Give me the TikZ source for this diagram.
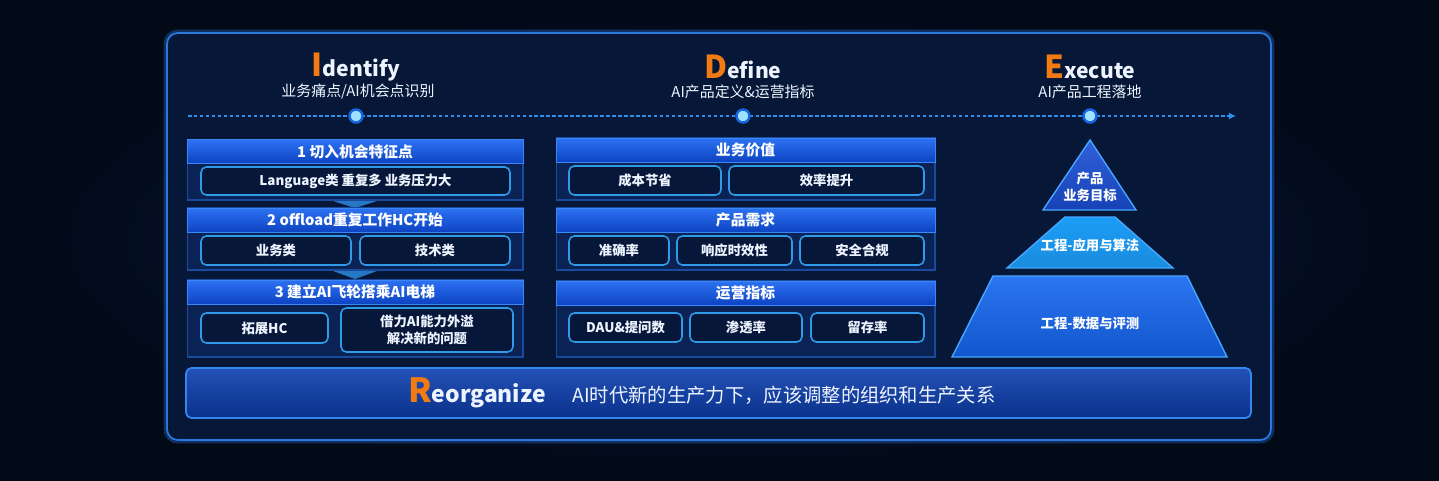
\documentclass[tikz,border=0pt]{standalone}
\usepackage{fontspec}
\setmainfont{Noto Sans CJK SC}
\usepackage{tikz}
\usetikzlibrary{arrows.meta, positioning}

\definecolor{bgdark}{HTML}{020917}
\definecolor{bgmid}{HTML}{0A1D45}
\definecolor{panelfill}{HTML}{061737}
\definecolor{paneledge}{HTML}{2A78E0}
\definecolor{bodyblue}{HTML}{0A2254}
\definecolor{bodyedge}{HTML}{1A4A9C}
\definecolor{headtop}{HTML}{2C72F2}
\definecolor{headbot}{HTML}{0D43C2}
\definecolor{headedge}{HTML}{3C86F5}
\definecolor{itemfill}{HTML}{061739}
\definecolor{itemedge}{HTML}{2F9AE8}
\definecolor{textwhite}{HTML}{EEF4FF}
\definecolor{accent}{HTML}{F27A12}
\definecolor{lineblue}{HTML}{2F8FE8}
\definecolor{dotcore}{HTML}{9FE2FF}
\definecolor{dotring}{HTML}{1766E0}
\definecolor{pyrtop}{HTML}{1A4ED6}
\definecolor{pyrmid}{HTML}{1C9CF6}
\definecolor{pyrlow}{HTML}{1466F0}
\definecolor{pyredge}{HTML}{45A6FF}
\definecolor{barfill}{HTML}{0C3EAE}
\definecolor{baredge}{HTML}{3288EE}

\begin{document}
\begin{tikzpicture}[x=0.02cm, y=-0.02cm]
\tikzstyle{panel}=[rectangle, rounded corners=6pt, fill=panelfill, draw=paneledge, line width=1pt]
\tikzstyle{stage}=[text=textwhite, font=\fontsize{12}{14}\selectfont\bfseries, inner sep=0pt]
\tikzstyle{stagesub}=[text=textwhite, font=\fontsize{8.5}{10}\selectfont, inner sep=0pt]
\tikzstyle{timeline}=[lineblue, line width=0.8pt, dash pattern=on 2pt off 1.4pt, -{Latex[length=4pt, width=4pt]}]
\tikzstyle{dot}=[circle, minimum size=2.6mm, inner sep=0pt, fill=dotcore, draw=dotring, line width=1.4pt]
\tikzstyle{blockbody}=[rectangle, fill=bodyblue, draw=bodyedge, line width=0.6pt, inner sep=0pt]
\tikzstyle{headbar}=[rectangle, top color=headtop, bottom color=headbot, draw=headedge, line width=0.5pt, text=white, font=\fontsize{8.4}{10}\selectfont\bfseries, minimum height=0.48cm, inner sep=0pt]
\tikzstyle{item}=[rectangle, rounded corners=3pt, fill=itemfill, draw=itemedge, line width=0.9pt, text=textwhite, font=\fontsize{7.6}{10}\selectfont\bfseries, inner sep=0pt, align=center]
\tikzstyle{chev}=[fill=lineblue, opacity=0.8]
\tikzstyle{pyr}=[text=white, font=\fontsize{7.6}{10}\selectfont\bfseries, inner sep=0pt, align=center]
\tikzstyle{bar}=[rectangle, rounded corners=3pt, top color=barfill!90!white, bottom color=barfill!80!black, draw=baredge, line width=1pt]
% background and panel
\shade[inner color=bgmid, outer color=bgdark] (0,0) rectangle (1439,480);
\useasboundingbox (0,0) rectangle (1439,480);
\node[panel, draw opacity=0.35, line width=4pt, minimum width=22.08cm, minimum height=8.14cm] (glow) at (719,236.5) {};
\node[panel, minimum width=22.08cm, minimum height=8.14cm] (frame) at (719,236.5) {};

% stage titles
\node[stage] (idt) at (356,67) {{\fontsize{18}{18}\selectfont\color{accent}I}dentify};
\node[stagesub] (idsub) at (358,92) {业务痛点/AI机会点识别};
\node[stage] (dft) at (743,67) {{\fontsize{18}{18}\selectfont\color{accent}D}efine};
\node[stagesub] (dfsub) at (743,92) {AI产品定义\&运营指标};
\node[stage] (ext) at (1090,67) {{\fontsize{18}{18}\selectfont\color{accent}E}xecute};
\node[stagesub] (exsub) at (1090,92) {AI产品工程落地};

% timeline
\coordinate (tstart) at (188,116);
\coordinate (tend) at (1236,116);
\draw[timeline] (tstart) -- (tend);
\node[dot] (d1) at (356,116) {};
\node[dot] (d2) at (743,116) {};
\node[dot] (d3) at (1090,116) {};

% identify column
\node[blockbody, minimum width=6.72cm, minimum height=1.2cm] (l1) at (355,170) {};
\node[headbar, minimum width=6.72cm] (l1h) at (355,151.5) {1 切入机会特征点};
\node[item, minimum width=6.18cm, minimum height=0.56cm] (l1a) at (355.5,181) {Language类 重复多 业务压力大};
\fill[chev] (333,201) -- (377,201) -- (355,208) -- cycle;
\node[blockbody, minimum width=6.72cm, minimum height=1.24cm] (l2) at (355,239) {};
\node[headbar, minimum width=6.72cm] (l2h) at (355,220) {2 offload重复工作HC开始};
\node[item, minimum width=3.0cm, minimum height=0.58cm] (l2a) at (276,250.5) {业务类};
\node[item, minimum width=3.0cm, minimum height=0.58cm] (l2b) at (435,250.5) {技术类};
\fill[chev] (333,271) -- (377,271) -- (355,279) -- cycle;
\node[blockbody, minimum width=6.72cm, minimum height=1.54cm] (l3) at (355,318.5) {};
\node[headbar, minimum width=6.72cm] (l3h) at (355,292) {3 建立AI飞轮搭乘AI电梯};
\node[item, minimum width=2.54cm, minimum height=0.6cm] (l3a) at (264.5,328) {拓展HC};
\node[item, minimum width=3.44cm, minimum height=0.88cm] (l3b) at (427,330) {借力AI能力外溢\\解决新的问题};

% define column
\node[blockbody, minimum width=7.58cm, minimum height=1.24cm] (m1) at (745.5,169) {};
\node[headbar, minimum width=7.58cm] (m1h) at (745.5,150) {业务价值};
\node[item, minimum width=3.04cm, minimum height=0.58cm] (m1a) at (645,180.5) {成本节省};
\node[item, minimum width=3.9cm, minimum height=0.58cm] (m1b) at (826.5,180.5) {效率提升};
\node[blockbody, minimum width=7.58cm, minimum height=1.24cm] (m2) at (745.5,239) {};
\node[headbar, minimum width=7.58cm] (m2h) at (745.5,220) {产品需求};
\node[item, minimum width=2.0cm, minimum height=0.58cm] (m2a) at (619,250.5) {准确率};
\node[item, minimum width=2.3cm, minimum height=0.58cm] (m2b) at (734.5,250.5) {响应时效性};
\node[item, minimum width=2.48cm, minimum height=0.58cm] (m2c) at (862,250.5) {安全合规};
\node[blockbody, minimum width=7.58cm, minimum height=1.52cm] (m3) at (745.5,319) {};
\node[headbar, minimum width=7.58cm] (m3h) at (745.5,293) {运营指标};
\node[item, minimum width=2.26cm, minimum height=0.58cm] (m3a) at (625.5,327.5) {DAU\&提问数};
\node[item, minimum width=2.24cm, minimum height=0.58cm] (m3b) at (746,327.5) {渗透率};
\node[item, minimum width=2.26cm, minimum height=0.58cm] (m3c) at (867.5,327.5) {留存率};

% execute pyramid
\draw[pyredge, line width=0.8pt, top color=pyrtop!90!white, bottom color=pyrtop!85!black] (1090,140) -- (1136,210) -- (1043,210) -- cycle;
\draw[pyredge, line width=0.8pt, top color=pyrmid, bottom color=pyrmid!90!black] (1065,217) -- (1115,217) -- (1173,268) -- (1007,268) -- cycle;
\draw[pyredge, line width=0.8pt, top color=pyrlow!90!white, bottom color=pyrlow!85!black] (993,276) -- (1187,276) -- (1227,357) -- (952,357) -- cycle;
\node[pyr] (p1) at (1090,187) {产品\\业务目标};
\node[pyr] (p2) at (1090,245) {工程-应用与算法};
\node[pyr] (p3) at (1090,323) {工程-数据与评测};

% reorganize bar
\node[bar, minimum width=21.3cm, minimum height=1.0cm] (reorg) at (718.5,393) {};
\node[stage, font=\fontsize{13}{15}\selectfont\bfseries] (rtitle) at (477,393) {{\fontsize{19}{19}\selectfont\color{accent}R}eorganize};
\node[stagesub, font=\fontsize{11}{12}\selectfont, anchor=west] (rtext) at (572,395) {AI时代新的生产力下，应该调整的组织和生产关系};
\end{tikzpicture}
\end{document}
